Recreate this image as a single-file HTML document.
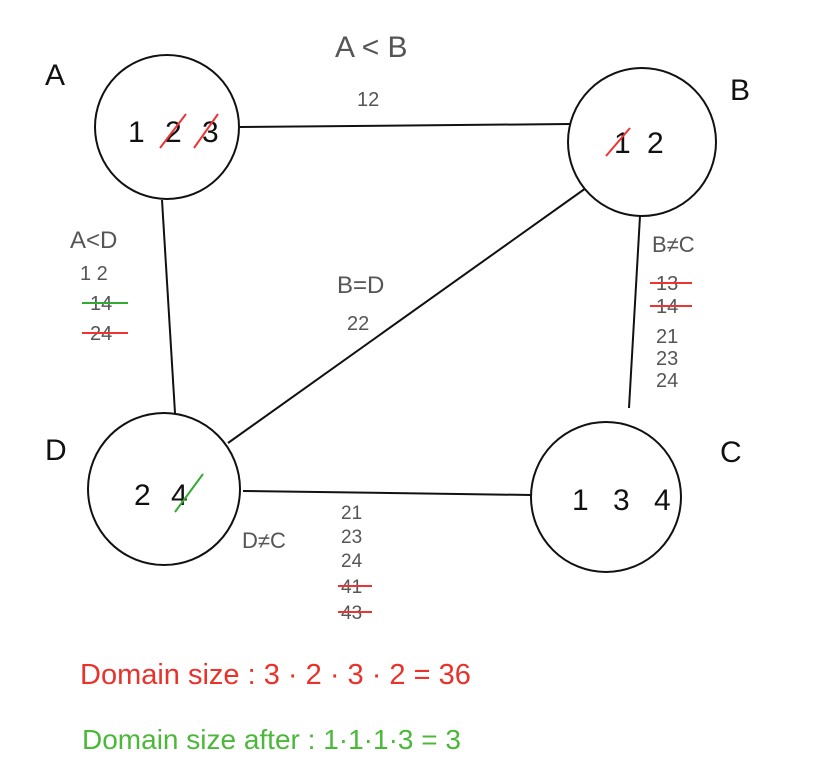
<!DOCTYPE html>
<html><head><meta charset="utf-8"><style>
html,body{margin:0;padding:0;background:#fff;}
svg{display:block;font-family:"Liberation Sans",sans-serif;}
</style></head><body>
<svg width="828" height="774" viewBox="0 0 828 774">
<g stroke="#111" stroke-width="2" fill="none">
<line x1="240" y1="127" x2="570" y2="124"/>
<line x1="162" y1="200" x2="175" y2="413"/>
<line x1="586" y1="188" x2="228" y2="443"/>
<line x1="640" y1="216" x2="629" y2="408"/>
<line x1="243" y1="491" x2="531" y2="495"/>
</g>
<g stroke="#111" stroke-width="2" fill="#fff">
<circle cx="167" cy="127" r="72"/>
<circle cx="642" cy="142" r="74"/>
<circle cx="164" cy="489" r="76"/>
<circle cx="606" cy="497" r="75"/>
</g>
<g font-size="30" fill="#111">
<text x="45" y="85">A</text>
<text x="730" y="100">B</text>
<text x="45" y="460">D</text>
<text x="720" y="462">C</text>
</g>
<g font-size="30" fill="#111">
<text x="128" y="142" letter-spacing="6">1 2 3</text>
<line x1="160" y1="148" x2="186" y2="114" stroke="#e33" stroke-width="2"/>
<line x1="194" y1="148" x2="218" y2="114" stroke="#e33" stroke-width="2"/>
<text x="614" y="153" letter-spacing="4">1 2</text>
<line x1="606" y1="156" x2="630" y2="128" stroke="#e33" stroke-width="2"/>
<text x="134" y="505" letter-spacing="6">2 4</text>
<line x1="175" y1="512" x2="203" y2="474" stroke="#3a3" stroke-width="2"/>
<text x="572" y="510" letter-spacing="8">1 3 4</text>
</g>
<g fill="#555">
<text x="335" y="57" font-size="30">A &lt; B</text>
<text x="357" y="106" font-size="20">12</text>
<text x="70" y="248" font-size="24">A&lt;D</text>
<text x="80" y="280" font-size="20">1 2</text>
<text x="90" y="310" font-size="20">14</text>
<line x1="82" y1="303" x2="128" y2="303" stroke="#3a3" stroke-width="2"/>
<text x="90" y="340" font-size="20">24</text>
<line x1="82" y1="333" x2="128" y2="333" stroke="#e33" stroke-width="2"/>
<text x="337" y="293" font-size="24">B=D</text>
<text x="347" y="330" font-size="20">22</text>
<text x="652" y="252" font-size="22">B≠C</text>
<text x="656" y="290" font-size="20">13</text>
<line x1="650" y1="283" x2="692" y2="283" stroke="#e33" stroke-width="2"/>
<text x="656" y="313" font-size="20">14</text>
<line x1="650" y1="306" x2="692" y2="306" stroke="#e33" stroke-width="2"/>
<text x="656" y="343" font-size="20">21</text>
<text x="656" y="365" font-size="20">23</text>
<text x="656" y="387" font-size="20">24</text>
<text x="242" y="548" font-size="22">D≠C</text>
<text x="341" y="519" font-size="19">21</text>
<text x="341" y="543" font-size="19">23</text>
<text x="341" y="567" font-size="19">24</text>
<text x="341" y="593" font-size="19">41</text>
<line x1="338" y1="586" x2="372" y2="586" stroke="#e33" stroke-width="2"/>
<text x="341" y="619" font-size="19">43</text>
<line x1="338" y1="612" x2="372" y2="612" stroke="#e33" stroke-width="2"/>
</g>
<text x="80" y="684" font-size="29" fill="#e8322a">Domain size :  3 · 2 · 3 · 2  =  36</text>
<text x="82" y="749" font-size="28" fill="#4cb83a">Domain size after : 1·1·1·3 = 3</text>
</svg>
</body></html>
